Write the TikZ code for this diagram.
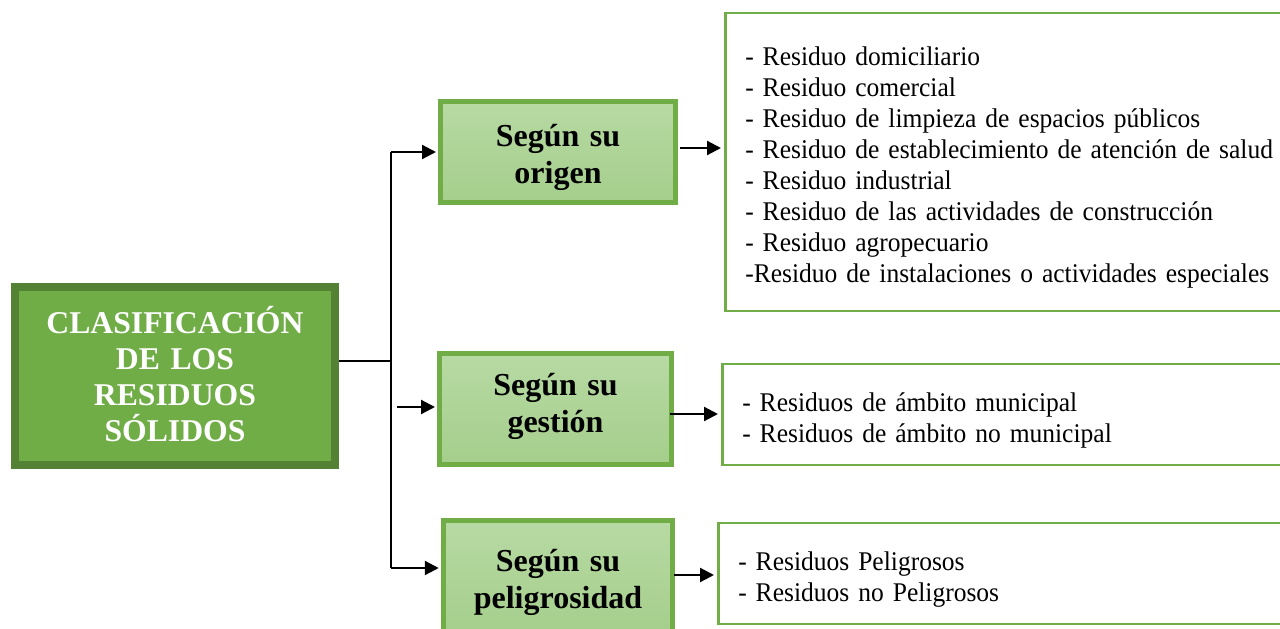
\documentclass[tikz,border=0pt]{standalone}
\usepackage{fontspec}
\setmainfont{Liberation Serif}
\newfontfamily\listfont{Liberation Serif}[FakeStretch=0.945]
\usetikzlibrary{arrows.meta}
\definecolor{gmain}{HTML}{70AD47}
\definecolor{gdark}{HTML}{548235}
\definecolor{glighttop}{HTML}{B7DAA4}
\definecolor{glightbot}{HTML}{A5CE8B}
\tikzset{
  struts/.style 2 args={execute at begin node={\rule{0pt}{#1}},
    execute at end node={\rule[-#2]{0pt}{#2}}},
  mainbox/.style={draw=gdark, line width=8pt, fill=gmain, text=white, align=center,
    font=\fontsize{31.7}{36}\selectfont\bfseries, inner sep=0pt},
  subbox/.style={draw=gmain, line width=5pt, top color=glighttop, bottom color=glightbot,
    align=center, font=\fontsize{32}{37}\selectfont\bfseries, inner sep=0pt},
  listbox/.style={draw=gmain, line width=2.5pt, fill=white, align=left,
    font=\listfont\fontsize{27}{31}\selectfont, inner xsep=20pt, inner ysep=0pt, anchor=west,
    struts={36pt}{12pt}},
  conn/.style={line width=2.2pt, black},
  arr/.style={conn, -{Triangle[length=14pt,width=14pt]}},
}
\begin{document}
\begin{tikzpicture}[x=1pt,y=-1pt]
\useasboundingbox (0,0) rectangle (1280,629);
\clip (0,0) rectangle (1280,629);
% main
\node[mainbox, text width=320pt, minimum height=178pt, struts={38pt}{16pt}] (main) at (175,376)
  {CLASIFICACIÓN\\DE LOS\\RESIDUOS\\SÓLIDOS};
% categories
\node[subbox, text width=235pt, minimum height=101pt, struts={43pt}{18pt}] (origen) at (558,152) {Según su\\origen};
\node[subbox, text width=232pt, minimum height=111pt, struts={34pt}{24pt}] (gestion) at (555.5,409) {Según su\\gestión};
\node[subbox, text width=229.5pt, minimum height=115pt, struts={48pt}{24pt}] (pelig) at (558,578) {Según su\\peligrosidad};
% lists
\node[listbox, text width=545pt, minimum height=298pt] (l1) at (724,162)
  {- Residuo domiciliario\\
   - Residuo comercial\\
   - Residuo de limpieza de espacios públicos\\
   - Residuo de establecimiento de atención de salud\\
   - Residuo industrial\\
   - Residuo de las actividades de construcción\\
   - Residuo agropecuario\\
   -Residuo de instalaciones o actividades especiales};
\node[listbox, text width=545pt, minimum height=101pt] (l2) at (721,414.5)
  {- Residuos de ámbito municipal\\
   - Residuos de ámbito no municipal};
\node[listbox, text width=545pt, minimum height=101pt] (l3) at (717,573.5)
  {- Residuos Peligrosos\\
   - Residuos no Peligrosos};
% connectors
\coordinate (jn) at (391,361);
\coordinate (top) at (391,152);
\coordinate (bot) at (391,568);
\coordinate (gm) at (397,407);
\draw[conn] (main.east |- jn) -- (jn);
\draw[conn] (top) -- (bot);
\draw[arr, shorten >=2pt] (top) -- (origen.west |- top);
\draw[arr, shorten >=2pt] (gm) -- (gestion.west |- gm);
\draw[arr, shorten >=2pt] (bot) -- (pelig.west |- bot);
\coordinate (o1) at (0,148);
\coordinate (o2) at (0,414);
\coordinate (o3) at (0,575);
\draw[arr, shorten <=2pt, shorten >=3pt] (origen.east |- o1) -- (l1.west |- o1);
\draw[arr, shorten <=-4pt, shorten >=3pt] (gestion.east |- o2) -- (l2.west |- o2);
\draw[arr, shorten <=-1pt, shorten >=3pt] (pelig.east |- o3) -- (l3.west |- o3);
\end{tikzpicture}
\end{document}
